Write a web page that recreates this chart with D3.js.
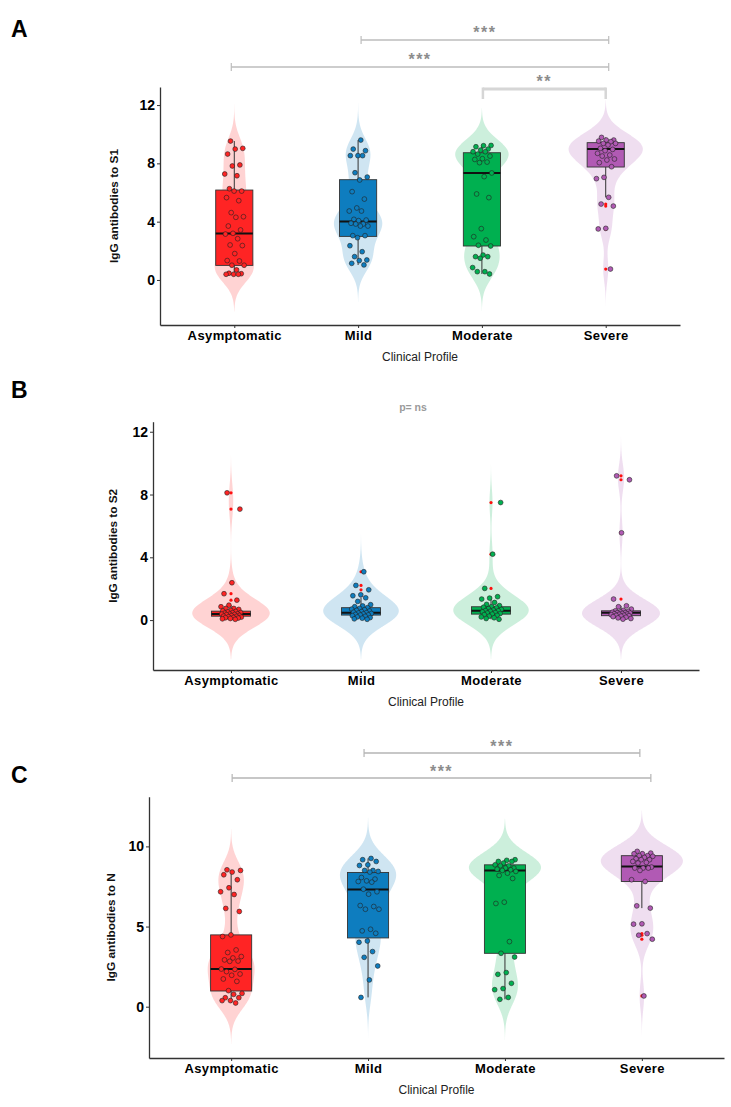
<!DOCTYPE html>
<html><head><meta charset="utf-8">
<script src="https://cdn.jsdelivr.net/npm/d3@7"></script>
<style>
body{margin:0;background:#fff}
svg{display:block}
text{font-family:"Liberation Sans",Arial,Helvetica,sans-serif}
</style>
</head><body>
<svg id="chart" width="731" height="1107"></svg>
<script>
// ---------------- DATA ----------------
const categories = ["Asymptomatic", "Mild", "Moderate", "Severe"];
const groupColors = ["#FF2424", "#0E7DBF", "#00B050", "#B15AB4"];

// Panel A: IgG antibodies to S1
const s1Asymptomatic = [9.53, 9.03, 8.98, 8.64, 7.89, 7.82, 7.27, 7.15, 6.26, 6.10, 6.10, 5.65, 5.44, 4.62, 4.34, 4.30, 3.70, 3.43, 3.20, 3.15, 2.83, 2.40, 2.36, 1.81, 1.33, 1.30, 1.01, 1.01, 0.69, 0.46, 0.43, 0.39, 0.39, 0.39];
const s1Mild = [9.60, 8.98, 8.87, 8.53, 8.53, 8.53, 7.36, 7.06, 6.86, 6.06, 5.55, 4.94, 4.73, 4.73, 4.16, 4.11, 4.07, 3.89, 3.84, 3.84, 3.70, 3.70, 3.04, 3.04, 2.90, 2.35, 1.94, 1.60, 1.37, 1.33, 1.14, 1.03];
const s1Moderate = [9.23, 9.21, 9.14, 8.98, 8.91, 8.80, 8.80, 8.64, 8.50, 8.32, 8.27, 8.09, 8.05, 7.34, 7.09, 5.90, 5.65, 3.52, 2.97, 2.74, 2.38, 2.33, 1.71, 1.60, 1.60, 1.49, 0.85, 0.57, 0.57, 0.41];
const s1Severe = [9.78, 9.60, 9.60, 9.53, 9.49, 9.37, 9.37, 9.26, 9.03, 8.96, 8.87, 8.69, 8.57, 8.50, 8.30, 8.23, 8.05, 7.77, 7.04, 6.95, 5.67, 5.21, 5.07, 3.54, 3.50, 0.75];
const s1Q1 = [1.00, 2.99, 2.33, 7.75];
const s1Median = [3.18, 4.02, 7.34, 8.98];
const s1Q3 = [6.17, 6.88, 8.73, 9.42];
const s1WhiskerLow = [0.39, 1.03, 0.41, 5.67];
const s1WhiskerHigh = [9.53, 9.60, 9.23, 9.78];

// Panel B: IgG antibodies to S2
const s2Asymptomatic = [8.11, 7.07, 2.38, 1.68, 1.27, 0.95, 0.85, 0.74, 0.74, 0.68, 0.62, 0.59, 0.55, 0.52, 0.48, 0.47, 0.44, 0.40, 0.38, 0.38, 0.36, 0.34, 0.30, 0.28, 0.25, 0.24, 0.21, 0.19, 0.17, 0.15, 0.13, 0.10, 0.08, 0.05];
const s2Mild = [3.08, 2.21, 1.93, 1.61, 1.55, 1.42, 1.19, 0.98, 0.90, 0.85, 0.79, 0.75, 0.70, 0.66, 0.62, 0.58, 0.54, 0.50, 0.47, 0.45, 0.42, 0.39, 0.36, 0.33, 0.32, 0.28, 0.24, 0.20, 0.16, 0.12, 0.08, 0.05];
const s2Moderate = [7.49, 4.20, 2.02, 1.49, 1.40, 1.34, 1.12, 1.00, 0.92, 0.85, 0.82, 0.78, 0.73, 0.68, 0.64, 0.60, 0.59, 0.56, 0.52, 0.48, 0.45, 0.42, 0.38, 0.35, 0.30, 0.25, 0.20, 0.15, 0.10, 0.05];
const s2Severe = [9.19, 8.94, 5.56, 1.34, 0.91, 0.85, 0.70, 0.62, 0.59, 0.56, 0.52, 0.50, 0.48, 0.47, 0.45, 0.42, 0.40, 0.38, 0.37, 0.34, 0.31, 0.30, 0.28, 0.25, 0.22, 0.18, 0.14, 0.10, 0.06];
const s2Q1 = [0.25, 0.32, 0.38, 0.28];
const s2Median = [0.38, 0.47, 0.59, 0.47];
const s2Q3 = [0.57, 0.79, 0.85, 0.59];
const s2WhiskerLow = [0.05, 0.05, 0.05, 0.06];
const s2WhiskerHigh = [0.95, 1.42, 1.49, 0.91];

// Panel C: IgG antibodies to N
const nAsymptomatic = [8.54, 8.50, 8.40, 8.23, 7.92, 7.42, 7.17, 7.00, 6.13, 5.94, 4.48, 4.38, 3.54, 3.38, 3.13, 3.04, 2.92, 2.85, 2.83, 2.35, 2.33, 2.19, 2.04, 1.96, 1.73, 1.58, 1.00, 0.83, 0.77, 0.56, 0.56, 0.38, 0.38, 0.23];
const nMild = [9.25, 9.17, 9.06, 8.85, 8.81, 8.50, 8.50, 8.44, 8.40, 8.06, 7.96, 7.85, 7.81, 7.77, 7.33, 7.17, 7.02, 6.31, 6.25, 6.08, 6.08, 4.83, 4.73, 4.58, 4.10, 4.02, 3.44, 3.08, 2.54, 1.67, 0.58];
const nModerate = [9.17, 9.13, 9.06, 9.06, 8.96, 8.85, 8.79, 8.79, 8.65, 8.65, 8.58, 8.54, 8.50, 8.44, 8.33, 8.19, 8.00, 6.52, 6.44, 4.06, 3.33, 3.10, 2.13, 2.02, 1.46, 1.13, 1.06, 0.58, 0.46];
const nSevere = [9.69, 9.58, 9.54, 9.54, 9.42, 9.42, 9.38, 9.31, 9.23, 9.17, 9.17, 9.06, 9.00, 8.96, 8.71, 8.65, 8.65, 8.65, 8.50, 7.92, 7.81, 6.29, 6.15, 5.17, 5.15, 4.56, 4.46, 4.21, 0.67];
const nQ1 = [0.98, 4.29, 3.33, 7.81];
const nMedian = [2.35, 7.31, 8.50, 8.75];
const nQ3 = [4.48, 8.375, 8.85, 9.42];
const nWhiskerLow = [0.23, 0.58, 0.46, 6.15];
const nWhiskerHigh = [8.54, 9.25, 9.17, 9.69];

const yTicksS1 = [0, 4, 8, 12];
const yTicksS2 = [0, 4, 8, 12];
const yTicksN = [0, 5, 10];

// significance annotations: [from category, to category, label]
const sigS1 = [["Mild", "Severe", "***"], ["Asymptomatic", "Severe", "***"], ["Moderate", "Severe", "**"]];
const sigN = [["Mild", "Severe", "***"], ["Asymptomatic", "Severe", "***"]];
const sigS2Text = "p= ns";

// ---------------- LAYOUT ----------------
const panels = [
  { letter: "A", letterY: 37, left: 160, right: 680, top: 87, bottom: 325, domain: [-3.09, 13.24],
    ticks: yTicksS1, ylab: "IgG antibodies to S1", ylabX: 118,
    groups: [s1Asymptomatic, s1Mild, s1Moderate, s1Severe],
    q1: s1Q1, med: s1Median, q3: s1Q3, lo: s1WhiskerLow, hi: s1WhiskerHigh,
    sig: sigS1,
    sigStyle: [{y: 40, ty: 32, cap: "both", w: 1.5, col: "#bdbdbd", dx0: 3, dx1: 3},
               {y: 67, ty: 59, cap: "both", w: 1.5, col: "#bdbdbd", dx0: -3, dx1: 3},
               {y: 89, ty: 81, cap: "down", w: 3, col: "#d6d6d6", dx0: 1, dx1: 0}] },
  { letter: "B", letterY: 398, left: 153, right: 699, top: 421.7, bottom: 670, domain: [-3.18, 12.64],
    ticks: yTicksS2, ylab: "IgG antibodies to S2", ylabX: 117,
    groups: [s2Asymptomatic, s2Mild, s2Moderate, s2Severe],
    q1: s2Q1, med: s2Median, q3: s2Q3, lo: s2WhiskerLow, hi: s2WhiskerHigh,
    sig: [], sigStyle: [], note: sigS2Text, noteX: 413, noteY: 411 },
  { letter: "C", letterY: 783, left: 149, right: 724, top: 796.7, bottom: 1058, domain: [-3.2, 13.1],
    ticks: yTicksN, ylab: "IgG antibodies to N", ylabX: 115,
    groups: [nAsymptomatic, nMild, nModerate, nSevere],
    q1: nQ1, med: nMedian, q3: nQ3, lo: nWhiskerLow, hi: nWhiskerHigh,
    sig: sigN,
    sigStyle: [{y: 753, ty: 746, cap: "both", w: 1.5, col: "#b5b5b5", dx0: -4, dx1: -2},
               {y: 778, ty: 771, cap: "both", w: 1.5, col: "#b5b5b5", dx0: 1, dx1: 9}] }
];

const svg = d3.select("#chart");
const BW = 0.85;            // KDE bandwidth
const VIOLIN_WIDTH = 0.6;   // fraction of step
const BOX_WIDTH = 0.3;
const JITTER = 0.08;

function kde(values, bw, n) {
  const lo = d3.min(values) - 3 * bw, hi = d3.max(values) + 3 * bw;
  const pts = [];
  for (let i = 0; i < n; i++) {
    const v = lo + (hi - lo) * i / (n - 1);
    let s = 0;
    for (const x of values) { const z = (v - x) / bw; s += Math.exp(-0.5 * z * z); }
    pts.push({ v, d: s / (values.length * bw * Math.sqrt(2 * Math.PI)) });
  }
  return pts;
}
function jit(i) { const f = (i * 0.6180339887 + 0.31) % 1; return f * 2 - 1; }

panels.forEach((p, pi) => {
  const g = svg.append("g");
  const x = d3.scalePoint().domain(categories).range([p.left, p.right]).padding(0.6);
  const step = x.step();
  const y = d3.scaleLinear().domain(p.domain).range([p.bottom, p.top]);

  const clipId = "clip" + pi;
  svg.append("clipPath").attr("id", clipId).append("rect")
    .attr("x", p.left).attr("y", p.top).attr("width", p.right - p.left).attr("height", p.bottom - p.top);

  // violins
  const dens = p.groups.map(vals => kde(vals, BW, 400));
  const maxD = d3.max(dens, d => d3.max(d, e => e.d));
  const wScale = d3.scaleLinear().domain([0, maxD]).range([0, VIOLIN_WIDTH * step / 2]);
  const vg = g.append("g").attr("clip-path", `url(#${clipId})`);
  dens.forEach((d, gi) => {
    const cx = x(categories[gi]);
    const area = d3.area().y(e => y(e.v)).x0(e => cx - wScale(e.d)).x1(e => cx + wScale(e.d)).curve(d3.curveBasis);
    vg.append("path").attr("d", area(d)).attr("fill", groupColors[gi]).attr("fill-opacity", 0.2);
  });

  // boxes
  const bw = BOX_WIDTH * step;
  categories.forEach((c, gi) => {
    const cx = x(c);
    g.append("line").attr("x1", cx).attr("x2", cx).attr("y1", y(p.hi[gi])).attr("y2", y(p.q3[gi]))
      .attr("stroke", "#333").attr("stroke-width", 1);
    g.append("line").attr("x1", cx).attr("x2", cx).attr("y1", y(p.q1[gi])).attr("y2", y(p.lo[gi]))
      .attr("stroke", "#333").attr("stroke-width", 1);
    g.append("rect").attr("x", cx - bw / 2).attr("width", bw)
      .attr("y", y(p.q3[gi])).attr("height", Math.max(0.5, y(p.q1[gi]) - y(p.q3[gi])))
      .attr("fill", groupColors[gi]).attr("stroke", "#333").attr("stroke-width", 0.9);
    g.append("line").attr("x1", cx - bw / 2).attr("x2", cx + bw / 2)
      .attr("y1", y(p.med[gi])).attr("y2", y(p.med[gi])).attr("stroke", "#111").attr("stroke-width", 2);
    // outliers
    p.groups[gi].filter(v => v > p.hi[gi] + 1e-9 || v < p.lo[gi] - 1e-9).forEach(v => {
      g.append("circle").attr("cx", cx).attr("cy", y(v)).attr("r", 1.6).attr("fill", "#FF1010");
    });
  });

  // jittered points
  p.groups.forEach((vals, gi) => {
    const cx = x(categories[gi]);
    vals.forEach((v, i) => {
      g.append("circle").attr("cx", cx + jit(i + gi * 7) * JITTER * step).attr("cy", y(v)).attr("r", 2.4)
        .attr("fill", groupColors[gi]).attr("stroke", "#222").attr("stroke-width", 0.6);
    });
  });

  // axes
  const ya = g.append("g").attr("transform", `translate(${p.left},0)`)
    .call(d3.axisLeft(y).tickValues(p.ticks).tickSize(3).tickSizeOuter(0).tickPadding(2));
  ya.select(".domain").attr("stroke", "#333").attr("stroke-width", 1.3);
  ya.selectAll(".tick line").attr("stroke", "#333");
  ya.selectAll(".tick text").attr("font-size", 14).attr("font-weight", "bold").attr("fill", "#000")
    .attr("font-family", "Liberation Sans, Arial, sans-serif");

  const xa = g.append("g").attr("transform", `translate(0,${p.bottom})`)
    .call(d3.axisBottom(x).tickSize(3).tickSizeOuter(0).tickPadding(3));
  xa.select(".domain").attr("stroke", "#333").attr("stroke-width", 1.3);
  xa.selectAll(".tick line").attr("stroke", "#333");
  xa.selectAll(".tick text").attr("font-size", 13).attr("font-weight", "bold").attr("fill", "#000")
    .attr("font-family", "Liberation Sans, Arial, sans-serif").attr("letter-spacing", 0.4);

  // titles
  g.append("text").attr("transform", `translate(${p.ylabX},${(p.top + p.bottom) / 2}) rotate(-90)`)
    .attr("text-anchor", "middle").attr("font-size", 11.8).attr("font-weight", "bold").attr("fill", "#111")
    .text(p.ylab);
  g.append("text").attr("x", (p.left + p.right) / 2).attr("y", p.bottom + 36)
    .attr("text-anchor", "middle").attr("font-size", 12).attr("fill", "#222").text("Clinical Profile");
  g.append("text").attr("x", 11).attr("y", p.letterY).attr("font-size", 23).attr("font-weight", "bold")
    .attr("fill", "#000").text(p.letter);

  // significance brackets
  p.sig.forEach((s, si) => {
    const st = p.sigStyle[si];
    const x0 = x(s[0]) + st.dx0, x1 = x(s[1]) + st.dx1;
    g.append("line").attr("x1", x0).attr("x2", x1).attr("y1", st.y).attr("y2", st.y)
      .attr("stroke", st.col).attr("stroke-width", st.w);
    [x0, x1].forEach(xx => {
      const ya0 = st.cap === "both" ? st.y - 4 : st.y - st.w / 2;
      const ya1 = st.cap === "both" ? st.y + 4 : st.y + 10;
      g.append("line").attr("x1", xx).attr("x2", xx).attr("y1", ya0).attr("y2", ya1)
        .attr("stroke", st.col).attr("stroke-width", st.cap === "both" ? 1.2 : 2.5);
    });
    g.append("text").attr("x", (x0 + x1) / 2).attr("y", st.ty + 6).attr("text-anchor", "middle")
      .attr("font-size", 16).attr("font-weight", "bold").attr("fill", "#8c8c8c").attr("letter-spacing", 1.5)
      .text(s[2]);
  });
  if (p.note) {
    g.append("text").attr("x", p.noteX).attr("y", p.noteY).attr("text-anchor", "middle")
      .attr("font-size", 10.5).attr("font-weight", "bold").attr("fill", "#9a9a9a").text(p.note);
  }
});
</script>
</body></html>
